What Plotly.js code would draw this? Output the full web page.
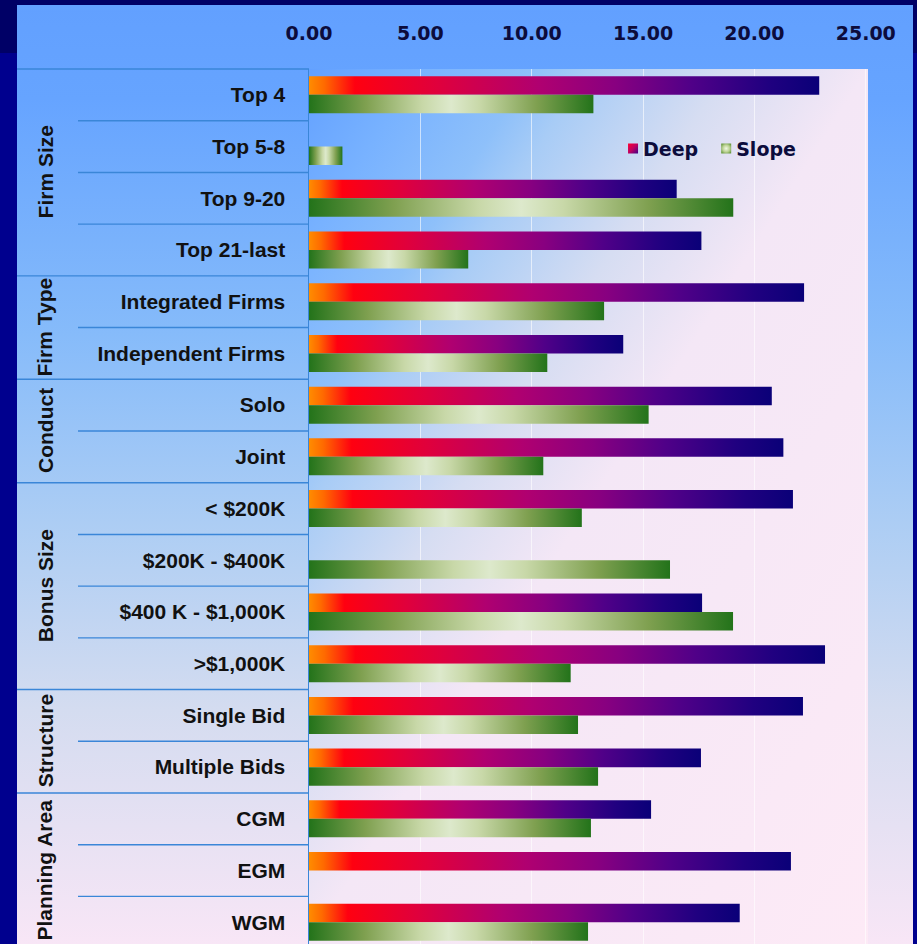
<!DOCTYPE html>
<html>
<head>
<meta charset="utf-8">
<script src="https://cdn.plot.ly/plotly-3.0.1.min.js"></script>
<style>
  html, body { margin: 0; padding: 0; width: 917px; height: 944px; overflow: hidden; background: #00008e; }
  #band { position: absolute; left: 0; top: 0; width: 917px; height: 53px; background: #000066; }
  #chart {
    position: absolute; left: 17px; top: 5px; width: 896px; height: 939px;
    background: linear-gradient(to bottom, #62a0ff 0%, #66a4ff 10%, #86bbfa 35%, #accdf4 55%, #d4dcf0 75%, #f8e6f6 100%);
  }
</style>
</head>
<body>
<div id="band"></div>
<div id="chart"></div>
<script>
// Categories, top to bottom
const categories = [
  'Top 4', 'Top 5-8', 'Top 9-20', 'Top 21-last',
  'Integrated Firms', 'Independent Firms',
  'Solo', 'Joint',
  '< $200K', '$200K - $400K', '$400 K - $1,000K', '>$1,000K',
  'Single Bid', 'Multiple Bids',
  'CGM', 'EGM', 'WGM'
];

// Series values
const deep  = [22.91, null, 16.51, 17.62, 22.23, 14.11, 20.78, 21.30, 21.73, null, 17.65, 23.17, 22.18, 17.60, 15.36, 21.64, 19.34];
const slope = [12.77, 1.50, 19.05, 7.15, 13.25, 10.70, 15.25, 10.52, 12.25, 16.21, 19.04, 11.75, 12.08, 12.98, 12.66, null, 12.53];

// Category groups shown in the left column
const groupNames = ['Firm Size', 'Firm Type', 'Conduct', 'Bonus Size', 'Structure', 'Planning Area'];
const groupSizes = [4, 2, 2, 4, 2, 3];

// Value axis ticks
const xTicks = [0, 5, 10, 15, 20, 25];
const xTickText = ['0.00', '5.00', '10.00', '15.00', '20.00', '25.00'];

const labelFont = { family: 'Liberation Sans, Arial, sans-serif', size: 21, color: '#111111', weight: 'bold' };
const axisFont  = { family: 'DejaVu Sans, Verdana, sans-serif', size: 19, color: '#0c0c3c', weight: 'bold' };
const lineColor = '#3a86d8';

const traces = [
  { type: 'bar', orientation: 'h', name: 'Deep',  y: categories, x: deep,  marker: { color: '#a00070', line: { width: 0 } } },
  { type: 'bar', orientation: 'h', name: 'Slope', y: categories, x: slope, marker: { color: '#8ab060', line: { width: 0 } } }
];

// Group labels and separator lines of the category column
const annotations = [];
const shapes = [];
let start = 0;
groupNames.forEach((name, g) => {
  const n = groupSizes[g];
  annotations.push({
    xref: 'paper', x: 0, xshift: -264, xanchor: 'center',
    yref: 'y', y: start + (n - 1) / 2, yanchor: 'middle',
    text: name, textangle: -90, showarrow: false, font: labelFont
  });
  for (let k = 0; k < n; k++) {
    const idx = start + k;
    if (idx === categories.length - 1) break;
    const isGroupEnd = (k === n - 1);
    shapes.push({
      type: 'line', xref: 'paper', xsizemode: 'pixel', xanchor: 0,
      x0: isGroupEnd ? -292 : -231, x1: 0,
      yref: 'y', y0: idx + 0.5, y1: idx + 0.5,
      line: { color: lineColor, width: 1.4 }
    });
  }
  start += n;
});
shapes.push({
  type: 'line', xref: 'paper', xsizemode: 'pixel', xanchor: 0, x0: -292, x1: 0,
  yref: 'paper', y0: 1, y1: 1, line: { color: lineColor, width: 1.4 }
});

const layout = {
  width: 896, height: 939,
  margin: { l: 292, r: 45, t: 64, b: 0, pad: 0 },
  paper_bgcolor: 'rgba(0,0,0,0)',
  plot_bgcolor: '#a8ccf6',
  barmode: 'group', bargap: 0.284, bargroupgap: 0,
  showlegend: true,
  xaxis: {
    side: 'top', range: [0, 25.1], tickvals: xTicks, ticktext: xTickText,
    showgrid: true, gridcolor: 'rgba(255,255,255,0.6)', gridwidth: 1,
    zeroline: false, showline: false, ticks: '', tickfont: axisFont,
    ticklabelstandoff: 24, fixedrange: true
  },
  yaxis: {
    type: 'category', categoryorder: 'array', categoryarray: categories,
    range: [16.42, -0.5], showgrid: false, zeroline: false,
    showline: true, linecolor: lineColor, linewidth: 1.5,
    ticks: '', tickfont: labelFont, ticklabelstandoff: 18, fixedrange: true
  },
  legend: {
    orientation: 'h', x: 0.526, y: 0.909, xanchor: 'left', yanchor: 'middle',
    bgcolor: 'rgba(0,0,0,0)', borderwidth: 0, font: axisFont
  },
  annotations: annotations,
  shapes: shapes
};

Plotly.newPlot('chart', traces, layout, { staticPlot: true, displayModeBar: false }).then(gd => {
  const NS = 'http://www.w3.org/2000/svg';
  const svg = gd.querySelector('svg.main-svg');
  const defs = document.createElementNS(NS, 'defs');
  svg.insertBefore(defs, svg.firstChild);

  function addGradient(id, kind, attrs, stops) {
    const g = document.createElementNS(NS, kind);
    g.setAttribute('id', id);
    Object.keys(attrs).forEach(k => g.setAttribute(k, attrs[k]));
    stops.forEach(([off, col]) => {
      const s = document.createElementNS(NS, 'stop');
      s.setAttribute('offset', off);
      s.setAttribute('stop-color', col);
      g.appendChild(s);
    });
    defs.appendChild(g);
  }

  addGradient('gradDeep', 'linearGradient', { x1: 0, y1: 0, x2: 1, y2: 0 }, [
    [0, '#ff8c00'], [0.03, '#ff6a00'], [0.09, '#ff0010'], [0.25, '#e0003c'],
    [0.45, '#b00070'], [0.6, '#880080'], [0.75, '#500088'], [0.9, '#200080'], [1, '#0a0078']
  ]);
  addGradient('gradSlope', 'linearGradient', { x1: 0, y1: 0, x2: 1, y2: 0 }, [
    [0, '#23731a'], [0.2, '#7fa050'], [0.4, '#c8d8a8'], [0.5, '#dde9cc'],
    [0.6, '#c8d8a8'], [0.8, '#7fa050'], [1, '#23731a']
  ]);
  addGradient('gradPlot', 'linearGradient', { x1: 0, y1: 0, x2: 1, y2: 1 }, [
    [0, '#62a0ff'], [0.1, '#78b2ff'], [0.2, '#8ec0fa'], [0.25, '#a8ccf6'],
    [0.375, '#d6ddf2'], [0.5, '#f4e7f6'], [1, '#fdeaf6']
  ]);
  addGradient('gradDeepKey', 'linearGradient', { x1: 0, y1: 0, x2: 1, y2: 1 }, [
    [0, '#ff0030'], [0.5, '#c00060'], [1, '#400088']
  ]);
  addGradient('gradSlopeKey', 'radialGradient', { cx: 0.5, cy: 0.5, r: 0.6 }, [
    [0, '#f2f8e4'], [0.6, '#b8d090'], [1, '#6a9a40']
  ]);

  const bg = gd.querySelector('rect.bg');
  if (bg) bg.style.fill = 'url(#gradPlot)';

  const barTraces = gd.querySelectorAll('.barlayer .trace.bars');
  const fills = ['url(#gradDeep)', 'url(#gradSlope)'];
  barTraces.forEach((t, i) => {
    t.querySelectorAll('path').forEach(p => { p.style.fill = fills[i]; });
  });

  // Legend keys: small gradient squares set close to their labels
  const keyFills = ['url(#gradDeepKey)', 'url(#gradSlopeKey)'];
  gd.querySelectorAll('.legend .traces').forEach((t, i) => {
    const p = t.querySelector('.legendpoints path');
    if (p) {
      p.setAttribute('d', 'M5,5H-5V-5H5Z');
      p.setAttribute('transform', 'translate(30,0)');
      p.style.fill = keyFills[i];
      p.style.stroke = 'none';
    }
    if (i > 0) {
      const m = /translate\(\s*([-\d.]+)[ ,]+([-\d.]+)\s*\)/.exec(t.getAttribute('transform') || '');
      if (m) t.setAttribute('transform', 'translate(' + (parseFloat(m[1]) - 7 * i) + ',' + m[2] + ')');
    }
  });
});
</script>
</body>
</html>
